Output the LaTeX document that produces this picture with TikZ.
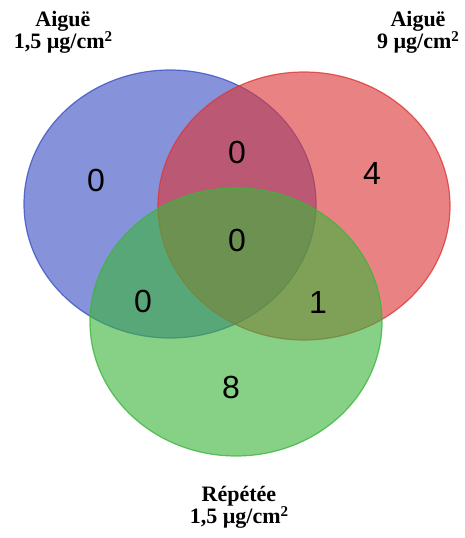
\documentclass[tikz,border=0pt]{standalone}
\usepackage{fontspec}
\setmainfont{Liberation Serif}
\newfontfamily\digitfont{Liberation Sans}
\usepackage{xcolor}
\usepackage{tikz}
\usetikzlibrary{shapes.geometric}

\definecolor{setblue}{RGB}{60,80,195}
\definecolor{setred}{RGB}{220,55,55}
\definecolor{setgreen}{RGB}{60,180,60}

\newcommand{\sqr}{\raisebox{7pt}{\fontsize{15}{15}\selectfont 2}}

\begin{document}
\begin{tikzpicture}[
  x=1pt, y=-1pt,
  set/.style={ellipse, draw, line width=1.2pt, draw opacity=0.8,
              fill opacity=0.62, minimum width=292pt, minimum height=268pt,
              inner sep=0pt},
  count/.style={font=\digitfont\fontsize{32}{32}\selectfont},
  setlabel/.style={align=center, font=\bfseries\fontsize{22}{22}\selectfont},
]
\useasboundingbox (0,0) rectangle (465,538);

% The three sets
\node[set, draw=setblue, fill=setblue] (acutelow) at (170,204) {};
\node[set, draw=setred, fill=setred] (acutehigh) at (304,206) {};
\node[set, draw=setgreen, fill=setgreen] (repeated) at (236,322) {};

% Counts per region
\node[count] (onlylow) at (96,180) {0};
\node[count] (lowhigh) at (237,152) {0};
\node[count] (onlyhigh) at (372,173) {4};
\node[count] (allthree) at (237,240) {0};
\node[count] (lowrep) at (143,301) {0};
\node[count] (highrep) at (318,302) {1};
\node[count] (onlyrep) at (231,387) {8};

% Set names
\node[setlabel] (lowname) at (63,32) {Aiguë\\1,5 µg/cm\sqr};
\node[setlabel] (highname) at (418,32) {Aiguë\\9 µg/cm\sqr};
\node[setlabel] (repname) at (239,507) {Répétée\\1,5 µg/cm\sqr};

\end{tikzpicture}
\end{document}
